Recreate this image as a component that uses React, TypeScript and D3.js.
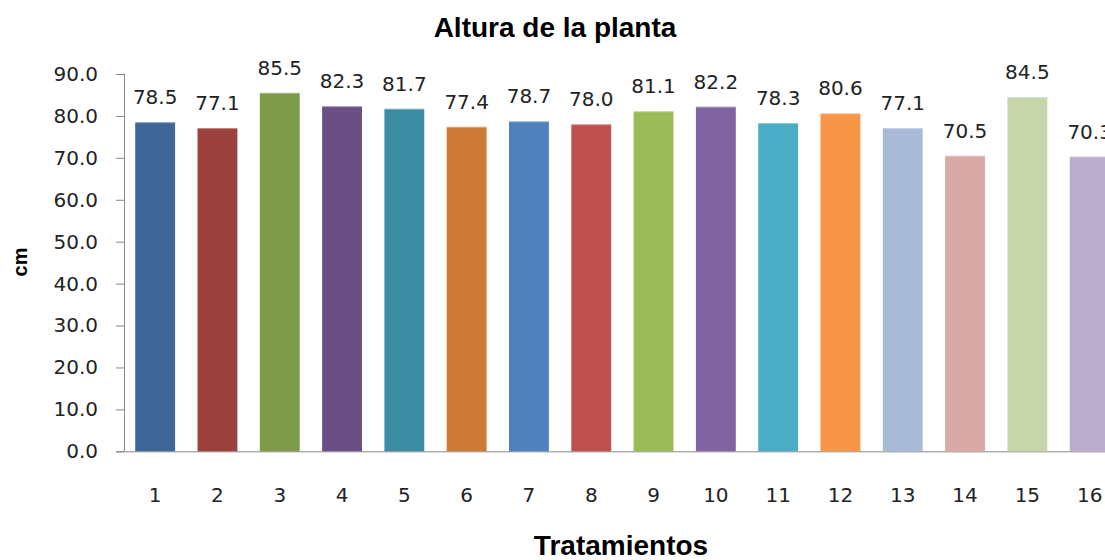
import React, { useEffect, useRef } from 'react';
import * as d3 from 'd3';

// treatments 1..16
const tratamientos = ['1', '2', '3', '4', '5', '6', '7', '8', '9', '10', '11', '12', '13', '14', '15', '16'];
const altura = [78.5, 77.1, 85.5, 82.3, 81.7, 77.4, 78.7, 78.0, 81.1, 82.2, 78.3, 80.6, 77.1, 70.5, 84.5, 70.3];
const colores = [
    '#3E6797', '#9C403D', '#7F9A48', '#6A4F85', '#3C8DA3', '#CC7A35', '#4F81BD', '#C0504D',
    '#9BBB59', '#8064A2', '#4BACC6', '#F79646', '#A9BAD9', '#D9A9A8', '#C6D6AA', '#B9AECB'
];
const yTicks = [0, 10, 20, 30, 40, 50, 60, 70, 80, 90];

const W = 1105;
const H = 560;

export default function App() {
    const ref = useRef<SVGSVGElement>(null);

    useEffect(() => {
        const svg = d3.select(ref.current);
        svg.selectAll('*').remove();

        const left = 124;
        const top = 74;
        const bottom = 451.3;
        const step = 62.3;

        const x = d3.scaleBand()
            .domain(tratamientos)
            .range([left, left + step * tratamientos.length])
            .paddingInner(0.36)
            .paddingOuter(0.18);

        const y = d3.scaleLinear()
            .domain([0, 90])
            .range([bottom, top]);

        const font = "'DejaVu Sans', sans-serif";

        // title
        svg.append('text')
            .attr('x', 555)
            .attr('y', 37)
            .attr('text-anchor', 'middle')
            .attr('font-family', "'Liberation Sans', Arial, sans-serif")
            .attr('font-weight', 'bold')
            .attr('font-size', 28)
            .attr('fill', '#000')
            .text('Altura de la planta');

        // y axis
        const yAxis = svg.append('g')
            .attr('transform', `translate(${left},0)`)
            .call(d3.axisLeft(y).tickValues(yTicks).tickSize(8).tickPadding(18).tickFormat(d3.format('.1f')));
        yAxis.select('.domain').attr('stroke', '#888').attr('d', `M-0.5,${top}H0.5V${bottom}`);
        yAxis.selectAll('.tick line').attr('stroke', '#888');
        yAxis.selectAll('.tick text')
            .attr('font-family', font)
            .attr('font-size', 20)
            .attr('fill', '#222');

        // x axis
        const xAxis = svg.append('g')
            .attr('transform', `translate(0,${bottom})`)
            .call(d3.axisBottom(x).tickSize(0).tickPadding(37));
        xAxis.select('.domain').attr('stroke', '#888').attr('d', `M${left - 8},0.5H${W}`);
        xAxis.selectAll('.tick text')
            .attr('font-family', font)
            .attr('font-size', 20)
            .attr('fill', '#222');

        // bars
        svg.append('g')
            .selectAll('rect')
            .data(altura)
            .enter()
            .append('rect')
            .attr('x', (d, i) => x(tratamientos[i]) as number)
            .attr('y', d => y(d))
            .attr('width', x.bandwidth())
            .attr('height', d => bottom - y(d))
            .attr('fill', (d, i) => colores[i]);

        // thin light top edge like the excel bars
        svg.append('g')
            .selectAll('line')
            .data(altura)
            .enter()
            .append('line')
            .attr('x1', (d, i) => x(tratamientos[i]) as number)
            .attr('x2', (d, i) => (x(tratamientos[i]) as number) + x.bandwidth())
            .attr('y1', d => y(d) + 0.5)
            .attr('y2', d => y(d) + 0.5)
            .attr('stroke', '#fff')
            .attr('stroke-opacity', 0.35);

        // value labels
        svg.append('g')
            .selectAll('text')
            .data(altura)
            .enter()
            .append('text')
            .attr('x', (d, i) => (x(tratamientos[i]) as number) + x.bandwidth() / 2)
            .attr('y', d => y(d) - 18)
            .attr('text-anchor', 'middle')
            .attr('font-family', font)
            .attr('font-size', 20)
            .attr('fill', '#222')
            .text(d => d.toFixed(1));

        // axis titles
        svg.append('text')
            .attr('x', 621)
            .attr('y', 555)
            .attr('text-anchor', 'middle')
            .attr('font-family', "'Liberation Sans', Arial, sans-serif")
            .attr('font-weight', 'bold')
            .attr('font-size', 28)
            .attr('fill', '#000')
            .text('Tratamientos');

        svg.append('text')
            .attr('transform', 'translate(27,262) rotate(-90)')
            .attr('text-anchor', 'middle')
            .attr('font-family', "'Liberation Sans', Arial, sans-serif")
            .attr('font-weight', 'bold')
            .attr('font-size', 20)
            .attr('fill', '#000')
            .text('cm');
    }, []);

    return (
        <svg
            ref={ref}
            width={W}
            height={H}
            style={{ position: 'absolute', left: 0, top: 0, background: '#fff' }}
        ></svg>
    );
}
